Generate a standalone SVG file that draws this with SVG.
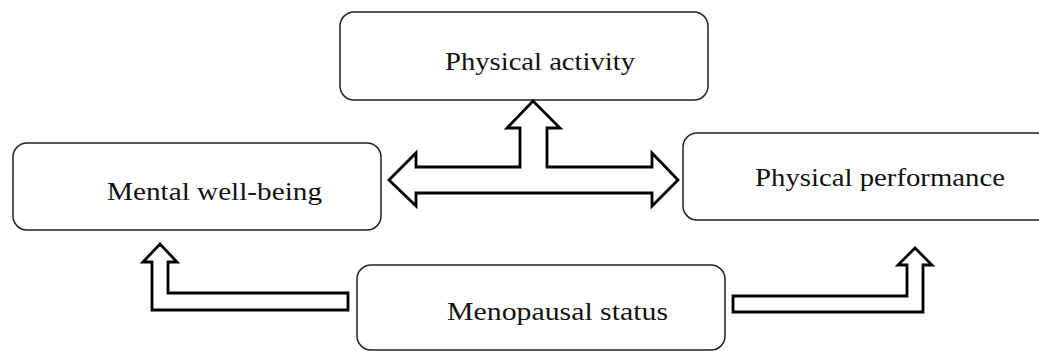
<svg xmlns="http://www.w3.org/2000/svg" width="1039" height="351" viewBox="0 0 1039 351">
<style>
.box{fill:#fff;stroke:#222;stroke-width:1.5}
.lbl{font-family:"Liberation Serif","DejaVu Serif",serif;font-size:25px;fill:#111}
.arr{fill:#fff;stroke:#000;stroke-width:2.8;stroke-linejoin:miter}
</style>
<rect width="1039" height="351" fill="#fff"/>
<g id="physical-activity">
<rect class="box" x="340" y="12" width="368" height="88" rx="14"/>
<text class="lbl" x="445" y="70" textLength="190" lengthAdjust="spacingAndGlyphs">Physical activity</text>
</g>
<g id="mental-well-being">
<rect class="box" x="13" y="143" width="368" height="87" rx="14"/>
<text class="lbl" x="107" y="200" textLength="215" lengthAdjust="spacingAndGlyphs">Mental well-being</text>
</g>
<g id="physical-performance">
<rect class="box" x="683" y="133" width="368" height="87" rx="14"/>
<text class="lbl" x="755" y="186" textLength="250" lengthAdjust="spacingAndGlyphs">Physical performance</text>
</g>
<g id="menopausal-status">
<rect class="box" x="357" y="265" width="368" height="85" rx="14"/>
<text class="lbl" x="447" y="320" textLength="221" lengthAdjust="spacingAndGlyphs">Menopausal status</text>
</g>
<g id="connectors">
<polygon class="arr" points="389,180 416,153 416,167 520,167 520,128 507,128 533,101 560,128 547,128 547,167 652,167 652,153 678,180 652,206 652,193 416,193 416,206"/>
<polygon class="arr" points="348,293 168,293 168,262 177,262 160,244 143,262 152,262 152,310 348,310"/>
<polygon class="arr" points="733,296 907,296 907,265 898,265 915,248 932,265 923,265 923,312 733,312"/>
</g>
</svg>
